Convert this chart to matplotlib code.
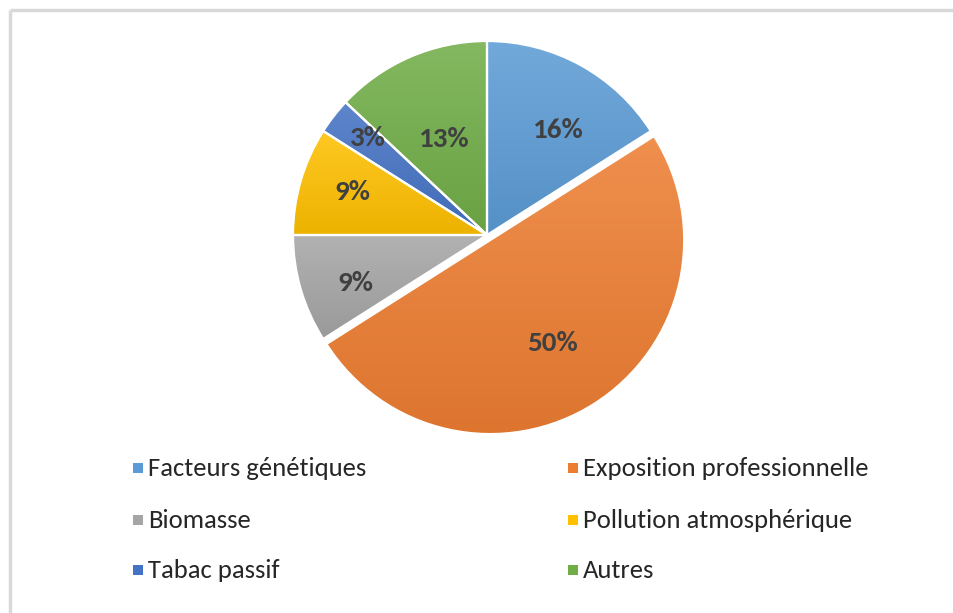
import matplotlib
matplotlib.use("Agg")
import matplotlib.pyplot as plt
import numpy as np
from matplotlib.colors import to_rgb
from matplotlib.patches import Wedge, Rectangle

# ---- data ----
categories = ["Facteurs génétiques", "Exposition professionnelle", "Biomasse",
              "Pollution atmosphérique", "Tabac passif", "Autres"]
values = [16, 50, 9, 9, 3, 13]
pct_labels = ["16%", "50%", "9%", "9%", "3%", "13%"]

# ---- style ----
colors = ["#5B9BD5", "#ED7D31", "#A5A5A5", "#FFC000", "#4472C4", "#70AD47"]
explode_px = [0, 6, 0, 0, 0, 0]
label_dist = [0.65, 0.62, 0.724, 0.73, 0.79, 0.544]
label_shift = [-4.9, -1.0, 3.8, -1.5, -1.4, 1.2]
FONT = ["Carlito", "DejaVu Sans"]

W, H = 954, 613
fig = plt.figure(figsize=(W / 100, H / 100), dpi=100)
ax = fig.add_axes([0, 0, 1, 1])
ax.axis("off")

cx, cy, r = 487, H - 235, 194

wedges, _ = ax.pie(values, colors=colors, startangle=90, counterclock=False,
                   center=(cx, cy), radius=r, explode=explode_px,
                   wedgeprops=dict(edgecolor="white", linewidth=1.6))


def shade(c, f):
    c = np.array(to_rgb(c))
    if f >= 0:
        return c + (1 - c) * f
    return c * (1 + f)


# gradient fill for each wedge (lighter top, darker bottom)
for w, c in zip(wedges, colors):
    verts = w.get_path().vertices
    x0, y0 = verts.min(axis=0)
    x1, y1 = verts.max(axis=0)
    top = shade(c, 0.14)
    bot = shade(c, -0.07)
    t = np.linspace(0, 1, 256)[:, None]
    grad = top[None, :] * (1 - t) + bot[None, :] * t
    img = ax.imshow(grad[:, None, :].repeat(2, axis=1), extent=(x0, x1, y0, y1),
                    origin="upper", aspect="auto", zorder=w.get_zorder() + 0.1,
                    interpolation="bilinear")
    img.set_clip_path(w)
    ax.add_patch(Wedge(w.center, w.r, w.theta1, w.theta2, facecolor="none",
                       edgecolor="white", linewidth=1.6,
                       zorder=w.get_zorder() + 0.2))

ax.set_xlim(0, W)
ax.set_ylim(0, H)
ax.set_aspect("equal")

# percentage labels
for w, lab, d, s in zip(wedges, pct_labels, label_dist, label_shift):
    ang = np.deg2rad((w.theta1 + w.theta2) / 2 + s)
    x = w.center[0] + d * w.r * np.cos(ang)
    y = w.center[1] + d * w.r * np.sin(ang)
    ax.text(x, y, lab, ha="center", va="center", fontsize=21, fontweight="bold",
            color="#404040", family=FONT, zorder=10)

# legend (two columns, three rows)
col_x = [133, 568]
row_y = [468, 520, 570]
sq = 10
for i, (name, c) in enumerate(zip(categories, colors)):
    col = i % 2
    row = i // 2
    xm = col_x[col]
    ym = H - row_y[row]
    ax.add_patch(Rectangle((xm, ym - sq / 2), sq, sq, facecolor=c, edgecolor="none"))
    ax.text(xm + sq + 5, ym, name, ha="left", va="center", fontsize=19.2,
            color="#262626", family=FONT)

# chart frame (top and left edges visible)
ax.plot([10.5, W], [H - 9.5, H - 9.5], color="#D9D9D9", lw=2.5, solid_capstyle="butt")
ax.plot([10.5, 10.5], [0, H - 9.5], color="#D9D9D9", lw=2.5, solid_capstyle="butt")

fig.savefig("out.png", dpi=100)
